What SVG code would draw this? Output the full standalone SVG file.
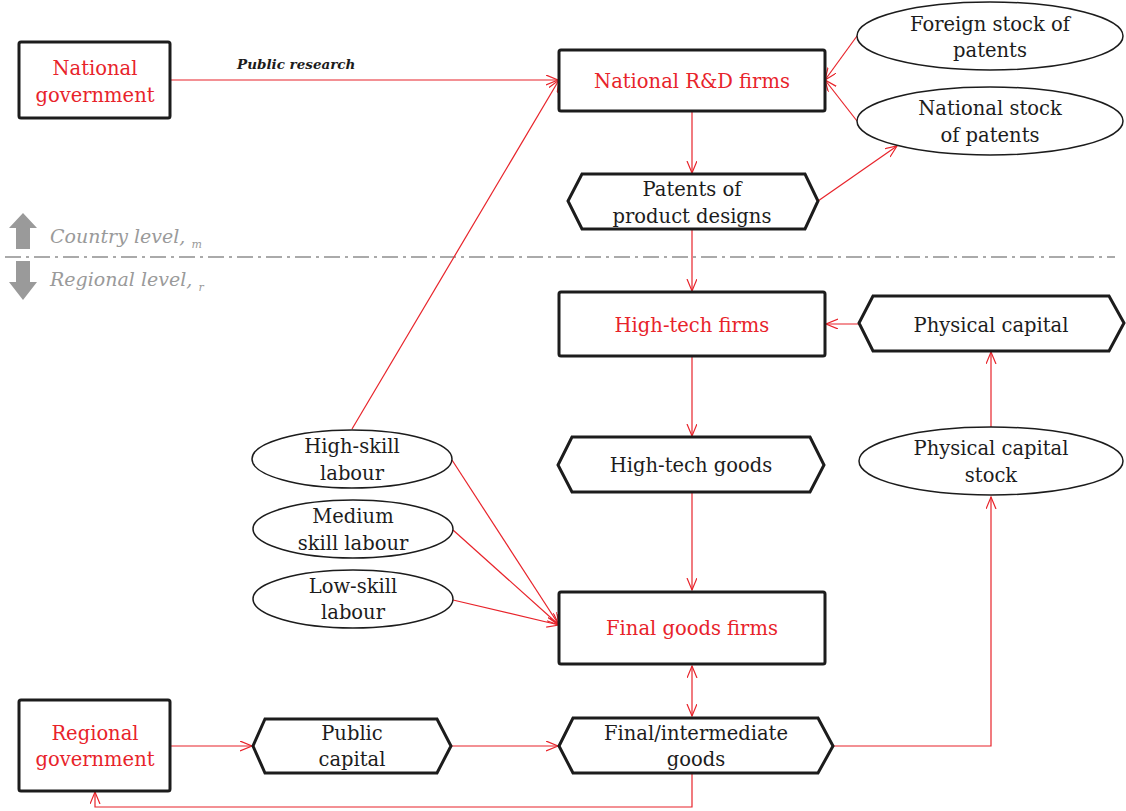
<svg xmlns="http://www.w3.org/2000/svg" width="1126" height="811" viewBox="0 0 1126 811">
<defs>
<marker id="ah" markerUnits="userSpaceOnUse" markerWidth="14" markerHeight="12" refX="12" refY="5" orient="auto-start-reverse" viewBox="0 0 14 12">
<path d="M0,0 L12,5 L0,10" fill="none" stroke="#e8232a" stroke-width="1.2"/>
</marker>
<style>
.box{fill:#fff;stroke:#1c1c1c;stroke-width:3;}
.hex{fill:#fff;stroke:#1c1c1c;stroke-width:3;stroke-linejoin:miter;}
.ell{fill:#fff;stroke:#1c1c1c;stroke-width:1.5;}
.t{font-family:"DejaVu Serif","Liberation Serif",serif;font-size:19.5px;fill:#1c1c1c;text-anchor:middle;}
.r{fill:#e8232a;}
.c{fill:none;stroke:#e8232a;stroke-width:1.2;}
.a{marker-end:url(#ah);}
.lvl{font-family:"DejaVu Serif","Liberation Serif",serif;font-size:19px;font-style:italic;fill:#9a9a9a;}
</style>
</defs>
<rect width="1126" height="811" fill="#fff"/>

<g id="levels">
<line x1="5" y1="257" x2="1115" y2="257" stroke="#aaaaaa" stroke-width="2" stroke-dasharray="16,5,3,5"/>
<path d="M16,249 L16,228 L9,228 L23,213 L37,228 L30,228 L30,249 Z" fill="#9a9a9a"/>
<path d="M16,261 L16,282 L9,282 L23,300 L37,282 L30,282 L30,261 Z" fill="#9a9a9a"/>
<text class="lvl" x="50" y="243">Country level, <tspan font-size="11" dy="5">m</tspan></text>
<text class="lvl" x="50" y="286">Regional level, <tspan font-size="11" dy="5">r</tspan></text>
</g>

<g id="connectors">
<line class="c a" x1="170" y1="80" x2="558" y2="80"/>
<text x="237" y="69" font-family="DejaVu Serif, Liberation Serif, serif" font-size="13.5" font-style="italic" font-weight="bold" fill="#1c1c1c">Public research</text>
<line class="c a" x1="352" y1="429" x2="559" y2="80"/>
<line class="c a" x1="857" y1="36" x2="825" y2="80"/>
<line class="c a" x1="857" y1="121" x2="825" y2="80"/>
<line class="c a" x1="818" y1="201" x2="897" y2="146"/>
<line class="c a" x1="692" y1="111" x2="692" y2="173"/>
<line class="c a" x1="692" y1="229" x2="692" y2="291"/>
<line class="c a" x1="692" y1="356" x2="692" y2="436"/>
<line class="c a" x1="692" y1="492" x2="692" y2="590"/>
<line class="c a" x1="859" y1="324" x2="826" y2="324"/>
<line class="c a" x1="991" y1="427" x2="991" y2="352"/>
<line class="c a" x1="452" y1="460" x2="559" y2="625"/>
<line class="c a" x1="453" y1="530" x2="559" y2="625"/>
<line class="c a" x1="453" y1="600" x2="559" y2="625"/>
<line class="c a" x1="692" y1="666" x2="692" y2="716" marker-start="url(#ah)"/>
<line class="c a" x1="170" y1="746" x2="252" y2="746"/>
<line class="c a" x1="451" y1="746" x2="558" y2="746"/>
<polyline class="c a" points="833,746 991,746 991,497"/>
<polyline class="c a" points="692,773 692,807 95,807 95,792"/>
</g>

<g id="national-government">
<rect class="box" x="19" y="42" width="151" height="76" rx="2"/>
<text class="t r" x="95" y="75">National</text>
<text class="t r" x="95" y="102">government</text>
</g>

<g id="rd-firms">
<rect class="box" x="559" y="50" width="266" height="61" rx="2"/>
<text class="t r" x="692" y="88">National R&amp;D firms</text>
</g>

<g id="foreign-stock">
<ellipse class="ell" cx="990" cy="36" rx="133" ry="34"/>
<text class="t" x="990" y="31">Foreign stock of</text>
<text class="t" x="990" y="57">patents</text>
</g>

<g id="national-stock">
<ellipse class="ell" cx="990" cy="121" rx="133" ry="34"/>
<text class="t" x="990" y="115">National stock</text>
<text class="t" x="990" y="142">of patents</text>
</g>

<g id="patents">
<polygon class="hex" points="582,174 805,174 818,201 805,229 582,229 568,201"/>
<text class="t" x="692" y="196">Patents of</text>
<text class="t" x="692" y="223">product designs</text>
</g>

<g id="hightech-firms">
<rect class="box" x="559" y="292" width="266" height="64" rx="2"/>
<text class="t r" x="692" y="332">High-tech firms</text>
</g>

<g id="physical-capital">
<polygon class="hex" points="873,296 1109,296 1124,323 1109,351 873,351 859,323"/>
<text class="t" x="991" y="332">Physical capital</text>
</g>

<g id="physical-capital-stock">
<ellipse class="ell" cx="991" cy="461" rx="132" ry="34"/>
<text class="t" x="991" y="455">Physical capital</text>
<text class="t" x="991" y="482">stock</text>
</g>

<g id="hightech-goods">
<polygon class="hex" points="572,437 810,437 824,465 810,492 572,492 558,465"/>
<text class="t" x="691" y="472">High-tech goods</text>
</g>

<g id="high-skill">
<ellipse class="ell" cx="352" cy="459" rx="100" ry="29"/>
<text class="t" x="352" y="453">High-skill</text>
<text class="t" x="352" y="480">labour</text>
</g>

<g id="medium-skill">
<ellipse class="ell" cx="353" cy="529" rx="100" ry="29"/>
<text class="t" x="353" y="523">Medium</text>
<text class="t" x="353" y="550">skill labour</text>
</g>

<g id="low-skill">
<ellipse class="ell" cx="353" cy="599" rx="100" ry="29"/>
<text class="t" x="353" y="593">Low-skill</text>
<text class="t" x="353" y="619">labour</text>
</g>

<g id="final-goods-firms">
<rect class="box" x="559" y="592" width="266" height="72" rx="2"/>
<text class="t r" x="692" y="635">Final goods firms</text>
</g>

<g id="final-intermediate-goods">
<polygon class="hex" points="573,718 818,718 833,746 818,773 573,773 559,746"/>
<text class="t" x="696" y="740">Final/intermediate</text>
<text class="t" x="696" y="766">goods</text>
</g>

<g id="regional-government">
<rect class="box" x="19" y="700" width="151" height="91" rx="2"/>
<text class="t r" x="95" y="740">Regional</text>
<text class="t r" x="95" y="766">government</text>
</g>

<g id="public-capital">
<polygon class="hex" points="265,719 437,719 451,746 437,773 265,773 253,746"/>
<text class="t" x="352" y="740">Public</text>
<text class="t" x="352" y="766">capital</text>
</g>
</svg>
